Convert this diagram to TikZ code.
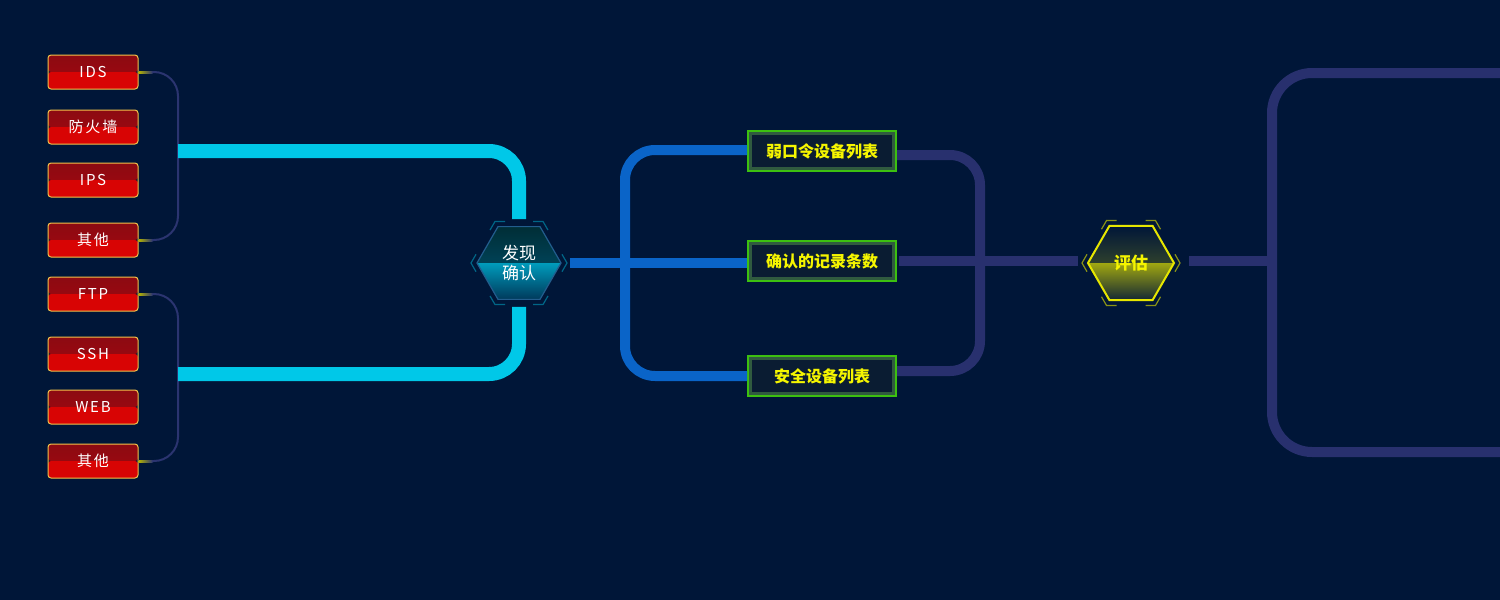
\documentclass[tikz,border=0pt]{standalone}
\usepackage{fontspec}
\setmainfont{Noto Sans CJK SC}
\newfontfamily\widefont[LetterSpace=12]{Noto Sans CJK SC}
\usetikzlibrary{shapes.geometric}

\definecolor{bgcol}{RGB}{0,22,56}
\definecolor{thinline}{RGB}{43,52,112}
\definecolor{darkline}{RGB}{40,48,110}
\definecolor{cyanline}{RGB}{0,200,232}
\definecolor{blueline}{RGB}{10,100,200}
\definecolor{redtop}{RGB}{140,10,18}
\definecolor{redbot}{RGB}{216,4,4}
\definecolor{redrim}{RGB}{242,194,74}
\definecolor{grnrim}{RGB}{60,192,16}
\definecolor{grnfill}{RGB}{10,28,50}
\definecolor{txtyel}{RGB}{245,245,0}
\definecolor{hexrim}{RGB}{230,230,0}

\tikzset{
    redbox/.style={rectangle, rounded corners=1.5pt, draw=redrim, line width=.5pt,
        minimum width=45pt, minimum height=17pt, inner sep=0pt,
        text=white, font=\widefont\fontsize{7.5pt}{8pt}\selectfont,
        path picture={
            \shade[top color=redtop, bottom color=redtop!80!red] (path picture bounding box.north west) rectangle (path picture bounding box.east);
            \fill[redbot] (path picture bounding box.west) rectangle (path picture bounding box.south east);
        }},
    listbox/.style={rectangle, draw=grnrim, line width=1pt, fill=grnfill,
        minimum width=74pt, minimum height=20pt, inner sep=0pt,
        text=txtyel, font=\bfseries\fontsize{8pt}{9pt}\selectfont,
        path picture={
            \draw[grnrim!70, opacity=.35, line width=4pt] (path picture bounding box.north west) rectangle (path picture bounding box.south east);
        }},
    hexbox/.style={regular polygon, regular polygon sides=6, inner sep=0pt,
        align=center, font=\fontsize{8.5pt}{10pt}\selectfont},
    thin/.style={thinline, line width=1pt, rounded corners=12pt},
    bar/.style={line width=5pt, rounded corners=15pt},
}

\begin{document}
\begin{tikzpicture}[x=0.5pt, y=-0.5pt]
    \fill[bgcol] (0,0) rectangle (1500,600);
    \useasboundingbox (0,0) rectangle (1500,600);

    % device boxes
    \node[redbox] (ids) at (93,72) {IDS};
    \node[redbox] (fw) at (93,127) {防火墙};
    \node[redbox] (ips) at (93,180) {IPS};
    \node[redbox] (oth1) at (93,240) {其他};
    \node[redbox] (ftp) at (93,294) {FTP};
    \node[redbox] (ssh) at (93,354) {SSH};
    \node[redbox] (web) at (93,407) {WEB};
    \node[redbox] (oth2) at (93,461) {其他};

    % junctions
    \coordinate (jA) at (178,151);
    \coordinate (jB) at (178,374);
    \coordinate (bA) at (625,263);
    \coordinate (pA) at (980,261);
    \coordinate (cA) at (1272,261);
    \coordinate (cT) at (1510,73);
    \coordinate (cB) at (1510,452);

    % hexagons
    \node[hexbox, minimum size=42pt, draw=thinline!80!cyan, line width=.6pt, text=white,
        path picture={
            \shade[top color=bgcol!60!cyan!40!black, bottom color=cyanline!35!bgcol] (path picture bounding box.north west) rectangle (path picture bounding box.east);
            \shade[top color=cyanline!75!bgcol, bottom color=cyanline!20!bgcol] (path picture bounding box.west) rectangle (path picture bounding box.south east);
        }] (find) at (519,263) {发现\\确认};
    \node[hexbox, minimum size=43pt, draw=hexrim, line width=1pt, text=txtyel,
        font=\bfseries\fontsize{8.5pt}{10pt}\selectfont,
        path picture={
            \shade[top color=bgcol, bottom color=hexrim!40!bgcol] (path picture bounding box.north west) rectangle (path picture bounding box.east);
            \shade[top color=hexrim!70!bgcol, bottom color=hexrim!8!bgcol] (path picture bounding box.west) rectangle (path picture bounding box.south east);
        }] (eval) at (1131,263) {评估};

    % list boxes
    \node[listbox] (weak) at (822,151) {弱口令设备列表};
    \node[listbox] (rec) at (822,261) {确认的记录条数};
    \node[listbox] (safe) at (822,376) {安全设备列表};

    % thin brackets
    \draw[thin] (ids.east) -| (jA) |- (oth1.east);
    \draw[thin] (ftp.east) -| (jB) |- (oth2.east);
    \foreach \b in {ids,oth1,ftp,oth2}
        \shade[left color=yellow!70!black, right color=thinline]
            ([yshift=.5pt]\b.east) rectangle ([xshift=7pt,yshift=-.5pt]\b.east);

    % cyan bracket
    \draw[bar, cyanline, line width=7pt, shorten >=3.5pt] (jA) -| (find.north);
    \draw[bar, cyanline, line width=7pt, shorten >=3.5pt] (jB) -| (find.south);

    % blue bracket
    \draw[bar, blueline, shorten <=4pt] (find.east) -- (find.east -| rec.west);
    \draw[bar, blueline] ([yshift=.5pt]weak.west) -| (bA) |- (safe.west);

    % dark bracket
    \draw[bar, darkline] ([yshift=-2pt]weak.east) -| (pA) |- ([yshift=2.5pt]safe.east);
    \draw[bar, darkline, shorten <=1pt, shorten >=4.5pt] (rec.east) -- (rec.east -| eval.west);
    \draw[bar, darkline, shorten <=7pt] (eval.east |- cA) -- (cA);
    \draw[bar, darkline, rounded corners=20pt] (cT) -| (cA) |- (cB);

    % hexagon corner marks
    \foreach \a in {0,60,...,300} {
        \draw[shift={(find.center)}, cyanline!45!bgcol, line width=.6pt]
            (\a:48) ++(\a-120:10) -- (\a:48) -- ++(\a+120:10);
        \draw[shift={(eval.center)}, hexrim!60!bgcol, line width=.6pt]
            (\a:49) ++(\a-120:10) -- (\a:49) -- ++(\a+120:10);
    }
\end{tikzpicture}
\end{document}
